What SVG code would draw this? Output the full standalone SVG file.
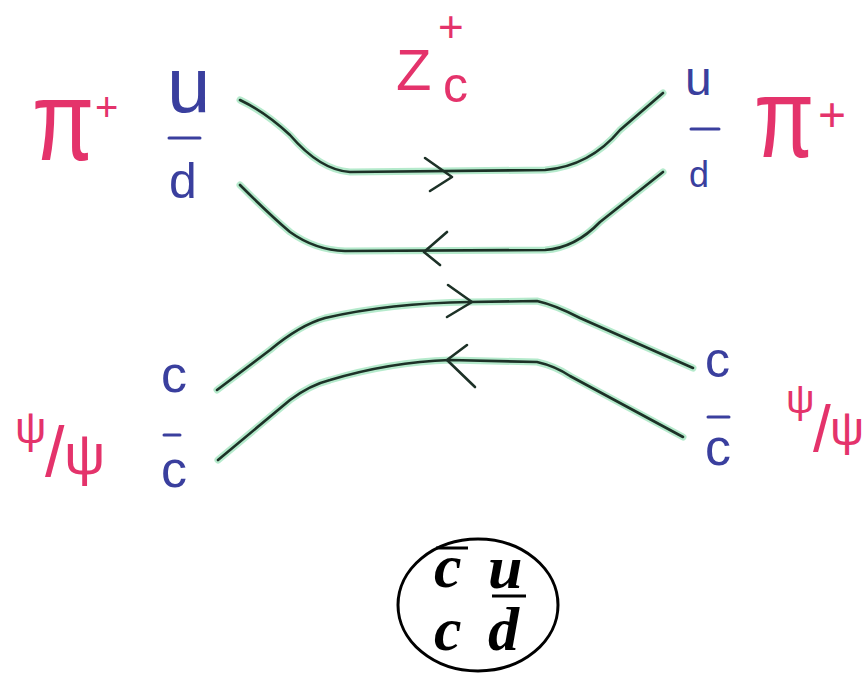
<svg xmlns="http://www.w3.org/2000/svg" width="865" height="677" viewBox="0 0 865 677">
<style>
.red{fill:#e4336b;font-family:"Liberation Sans",sans-serif}
.blue{fill:#3a3f9e;font-family:"Liberation Sans",sans-serif}
.bar{stroke:#3a3f9e;stroke-width:3;stroke-linecap:round}
.glow{fill:none;stroke:#79d9a3;stroke-width:7;stroke-opacity:0.55;stroke-linecap:round;stroke-linejoin:round}
.ln{fill:none;stroke:#1d3127;stroke-width:2.6;stroke-linecap:round;stroke-linejoin:round}
.box{font-family:"Liberation Serif",serif;font-style:italic;font-weight:bold;fill:#000;font-size:62px}
</style>
<rect width="865" height="677" fill="#fff"/>
<g id="zc">
<text class="red" x="396" y="90" font-size="58">Z</text>
<text class="red" x="443" y="102" font-size="50">c</text>
<text class="red" x="438" y="42" font-size="44">+</text>
</g>
<g id="pi-left">
<text class="red" transform="translate(32,160) scale(0.95,1.2)" font-size="95">π</text>
<text class="red" x="95" y="121" font-size="40">+</text>
</g>
<g id="pi-right">
<text class="red" transform="translate(754,157) scale(0.92,1.2)" font-size="95">π</text>
<text class="red" x="818" y="131" font-size="48">+</text>
</g>
<g id="psi-left">
<text class="red"><tspan x="15" y="443" font-size="44">ψ</tspan><tspan x="45" y="476" font-size="70">/</tspan><tspan x="64" y="474" font-size="58">ψ</tspan></text>
</g>
<g id="psi-right">
<text class="red"><tspan x="786" y="413" font-size="40">ψ</tspan><tspan x="813" y="451" font-size="64">/</tspan><tspan x="830" y="445" font-size="48">ψ</tspan></text>
</g>
<g id="quarks-left">
<text class="blue" x="167" y="112" font-size="78">u</text>
<line class="bar" x1="169" y1="138" x2="200" y2="138"/>
<text class="blue" x="169" y="198" font-size="50">d</text>
<text class="blue" x="161" y="392" font-size="52">c</text>
<line class="bar" x1="164" y1="435" x2="180" y2="435"/>
<text class="blue" x="161" y="487" font-size="52">c</text>
</g>
<g id="quarks-right">
<text class="blue" x="685" y="95" font-size="48">u</text>
<line class="bar" x1="691" y1="129" x2="719" y2="129"/>
<text class="blue" x="689" y="187" font-size="36">d</text>
<text class="blue" x="705" y="377" font-size="50">c</text>
<line class="bar" x1="708" y1="417" x2="729" y2="417"/>
<text class="blue" x="705" y="465" font-size="52">c</text>
</g>
<g id="connectors">
<path class="glow" d="M240,100 Q265,112 290,135 Q320,170 350,172 L545,170 Q590,166 620,130 L663,93"/>
<path class="ln" d="M240,100 Q265,112 290,135 Q320,170 350,172 L545,170 Q590,166 620,130 L663,93"/>
<path class="glow" d="M240,185 Q270,215 290,232 Q315,250 345,251 L545,250 Q575,248 600,222 L663,172"/>
<path class="ln" d="M240,185 Q270,215 290,232 Q315,250 345,251 L545,250 Q575,248 600,222 L663,172"/>
<path class="glow" d="M217,390 L270,350 Q300,325 325,318 Q390,303 470,302 L537,301 Q555,305 580,318 L693,368"/>
<path class="ln" d="M217,390 L270,350 Q300,325 325,318 Q390,303 470,302 L537,301 Q555,305 580,318 L693,368"/>
<path class="glow" d="M218,460 L290,400 Q310,385 330,380 Q390,362 450,360 L537,362 Q555,366 570,376 L683,437"/>
<path class="ln" d="M218,460 L290,400 Q310,385 330,380 Q390,362 450,360 L537,362 Q555,366 570,376 L683,437"/>
<path class="ln" d="M425,158 L452,177 L430,191"/>
<path class="ln" d="M447,232 L424,252 L440,265"/>
<path class="ln" d="M448,285 L472,302 L447,317"/>
<path class="ln" d="M467,345 L447,360 L475,387"/>
</g>
<g id="content-box">
<ellipse cx="478" cy="605" rx="80" ry="66" fill="none" stroke="#000" stroke-width="3"/>
<text class="box" x="434" y="587">c</text>
<line x1="436" y1="548" x2="468" y2="548" stroke="#000" stroke-width="3"/>
<text class="box" x="488" y="588">u</text>
<line x1="492" y1="596" x2="526" y2="596" stroke="#000" stroke-width="3"/>
<text class="box" x="434" y="650">c</text>
<text class="box" x="488" y="650">d</text>
</g>
</svg>
